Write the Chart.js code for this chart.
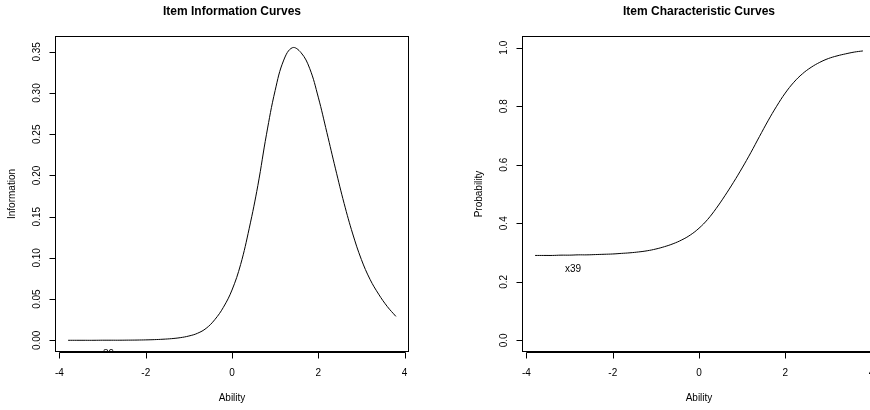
<!DOCTYPE html>
<html>
<head>
<meta charset="utf-8">
<title>Item curves</title>
<script src="https://cdn.jsdelivr.net/npm/chart.js@4/dist/chart.umd.min.js"></script>
<style>
  html, body { margin: 0; padding: 0; background: #fff; overflow: hidden; width: 870px; height: 410px; position: relative; }
  .panel { position: absolute; top: 0; width: 440px; height: 410px; }
</style>
</head>
<body>
<div class="panel" style="left:0"><canvas id="infoChart" width="440" height="410"></canvas></div>
<div class="panel" style="left:467px"><canvas id="iccChart" width="440" height="410"></canvas></div>
<script>
// ability grid (theta), -3.8 .. 3.8
var ability = [-3.8,-3.6,-3.4,-3.2,-3.0,-2.8,-2.6,-2.4,-2.2,-2.0,-1.8,-1.6,-1.4,-1.2,-1.0,-0.8,-0.6,-0.4,-0.2,0.0,
               0.2,0.4,0.6,0.8,1.0,1.2,1.4,1.6,1.8,2.0,2.2,2.4,2.6,2.8,3.0,3.2,3.4,3.6,3.8];

// item x39 information
var information = [0.0000,0.0000,0.0000,0.0000,0.0001,0.0001,0.0001,0.0002,0.0003,0.0005,0.0008,0.0013,0.0020,0.0032,0.0052,0.0085,0.0145,0.0250,0.040,0.061,
                   0.092,0.136,0.188,0.250,0.303,0.340,0.355,0.349,0.330,0.295,0.252,0.208,0.166,0.129,0.098,0.074,0.056,0.041,0.029];

// item x39 probability of a correct answer
var probability = [0.290,0.290,0.290,0.291,0.291,0.292,0.292,0.293,0.294,0.295,0.297,0.299,0.302,0.306,0.312,0.320,0.330,0.343,0.360,0.383,
                   0.413,0.451,0.494,0.540,0.589,0.641,0.696,0.750,0.800,0.845,0.882,0.911,0.933,0.950,0.963,0.972,0.979,0.985,0.989];

var itemName = 'x39';
var xTicks = [-4, -2, 0, 2, 4];
var infoTicks = [0, 0.05, 0.10, 0.15, 0.20, 0.25, 0.30, 0.35];
var probTicks = [0, 0.2, 0.4, 0.6, 0.8, 1.0];

var FONT = '"Liberation Sans", Arial, Helvetica, sans-serif';

function toPoints(xs, ys) {
  return xs.map(function (x, i) { return { x: x, y: ys[i] }; });
}

// R style axes, box and labels
var rAxes = {
  id: 'rAxes',
  afterDatasetsDraw: function (chart, args, o) {
    var ctx = chart.ctx, a = chart.chartArea;
    var xs = chart.scales.x, ys = chart.scales.y;
    // item label, clipped to the plot region like base graphics
    ctx.save();
    ctx.beginPath();
    ctx.rect(a.left, a.top, a.right - a.left, a.bottom - a.top);
    ctx.clip();
    ctx.fillStyle = '#000';
    ctx.font = '10px ' + FONT;
    ctx.textAlign = 'center';
    ctx.textBaseline = 'middle';
    ctx.fillText(o.label, xs.getPixelForValue(o.labelX), ys.getPixelForValue(o.labelY));
    ctx.restore();
  },
  afterDraw: function (chart, args, o) {
    var ctx = chart.ctx, a = chart.chartArea;
    var xs = chart.scales.x, ys = chart.scales.y;
    ctx.save();
    ctx.strokeStyle = '#000';
    ctx.fillStyle = '#000';
    ctx.lineWidth = 1;

    // box
    ctx.strokeRect(a.left + 0.5, a.top + 0.5, a.right - a.left - 1, a.bottom - a.top - 1);

    // x axis
    var yb = a.bottom + 0.5;
    var x0 = Math.round(xs.getPixelForValue(o.xTicks[0])) + 0.5;
    var x1 = Math.round(xs.getPixelForValue(o.xTicks[o.xTicks.length - 1])) + 0.5;
    ctx.beginPath();
    ctx.moveTo(x0, yb); ctx.lineTo(x1, yb);
    o.xTicks.forEach(function (t) {
      var px = Math.round(xs.getPixelForValue(t)) + 0.5;
      ctx.moveTo(px, yb); ctx.lineTo(px, yb + 6);
    });
    ctx.stroke();
    ctx.font = '10px ' + FONT;
    ctx.textAlign = 'center';
    ctx.textBaseline = 'middle';
    o.xTicks.forEach(function (t) {
      ctx.fillText(String(t), xs.getPixelForValue(t), a.bottom + 21);
    });

    // y axis
    var xl = a.left + 0.5;
    var y0 = Math.round(ys.getPixelForValue(o.yTicks[0])) + 0.5;
    var y1 = Math.round(ys.getPixelForValue(o.yTicks[o.yTicks.length - 1])) + 0.5;
    ctx.beginPath();
    ctx.moveTo(xl, y0); ctx.lineTo(xl, y1);
    o.yTicks.forEach(function (t) {
      var py = Math.round(ys.getPixelForValue(t)) + 0.5;
      ctx.moveTo(xl, py); ctx.lineTo(xl - 6, py);
    });
    ctx.stroke();
    o.yTicks.forEach(function (t) {
      ctx.save();
      ctx.translate(a.left - 18, ys.getPixelForValue(t));
      ctx.rotate(-Math.PI / 2);
      ctx.fillText(t.toFixed(o.yDigits), 0, 0);
      ctx.restore();
    });

    // axis titles
    var cx = (a.left + a.right) / 2;
    ctx.fillText(o.xTitle, cx, a.bottom + 46);
    ctx.save();
    ctx.translate(a.left - 43, (a.top + a.bottom) / 2);
    ctx.rotate(-Math.PI / 2);
    ctx.fillText(o.yTitle, 0, 0);
    ctx.restore();

    // main title
    ctx.font = 'bold 12px ' + FONT;
    ctx.fillText(o.title, cx, 12);
    ctx.restore();
  }
};

function makeChart(id, values, yMin, yMax, opts) {
  var ctx = document.getElementById(id).getContext('2d');
  return new Chart(ctx, {
    type: 'line',
    data: {
      datasets: [{
        data: toPoints(ability, values),
        borderColor: '#000',
        borderWidth: 1,
        pointRadius: 0,
        fill: false,
        tension: 0.4
      }]
    },
    options: {
      responsive: false,
      animation: false,
      layout: { padding: { left: 55, top: 36, right: 31, bottom: 58 } },
      scales: {
        x: { type: 'linear', min: -4.104, max: 4.104, display: false },
        y: { type: 'linear', min: yMin, max: yMax, display: false }
      },
      plugins: {
        legend: { display: false },
        tooltip: { enabled: false },
        rAxes: opts
      }
    },
    plugins: [rAxes]
  });
}

makeChart('infoChart', information, -0.0142, 0.3692, {
  title: 'Item Information Curves',
  xTitle: 'Ability',
  yTitle: 'Information',
  xTicks: xTicks,
  yTicks: infoTicks,
  yDigits: 2,
  label: itemName, labelX: -2.92, labelY: -0.017
});

makeChart('iccChart', probability, -0.04, 1.04, {
  title: 'Item Characteristic Curves',
  xTitle: 'Ability',
  yTitle: 'Probability',
  xTicks: xTicks,
  yTicks: probTicks,
  yDigits: 1,
  label: itemName, labelX: -2.92, labelY: 0.242
});
</script>
</body>
</html>
